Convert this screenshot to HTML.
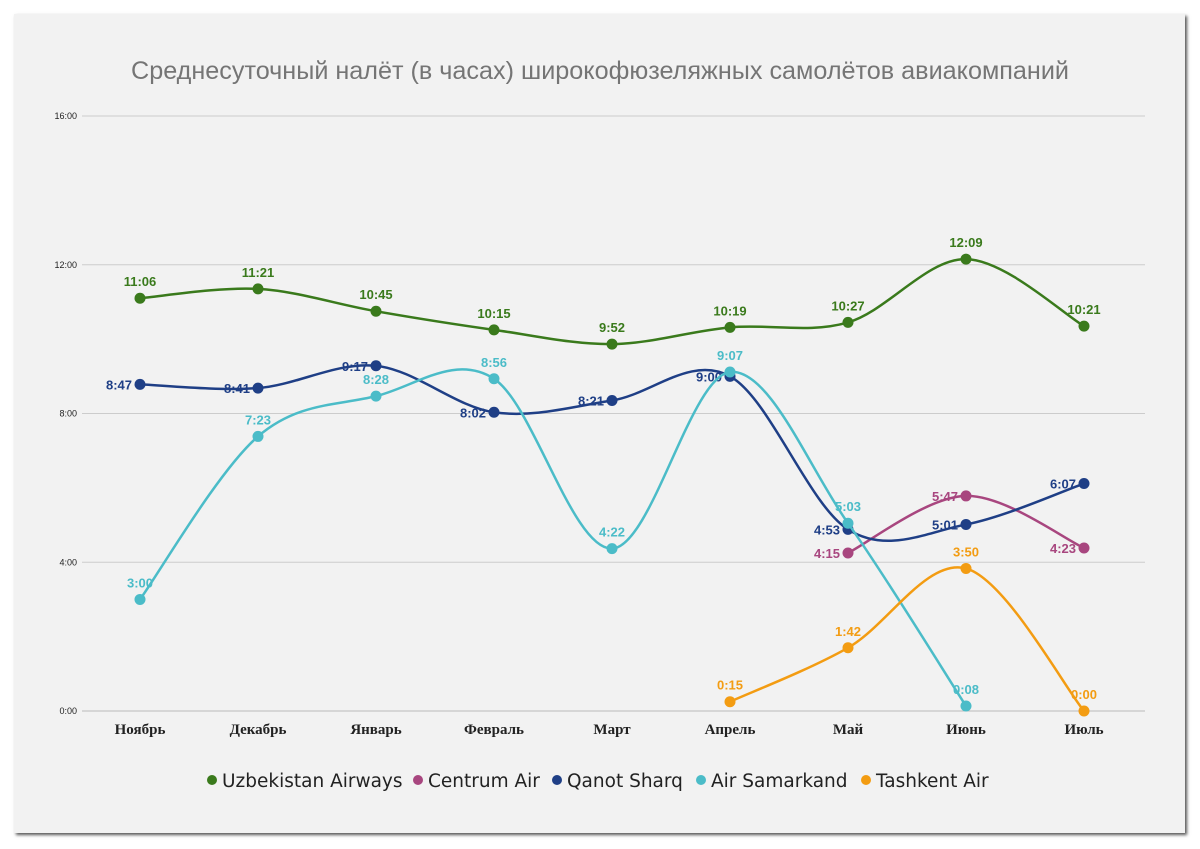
<!DOCTYPE html>
<html><head><meta charset="utf-8">
<style>
html,body{margin:0;padding:0;background:#fff;}
body{width:1200px;height:849px;position:relative;overflow:hidden;font-family:"Liberation Sans",sans-serif;}
#card{position:absolute;left:14px;top:14px;width:1171px;height:819px;background:#f2f2f2;box-shadow:2px 2px 3px #555;}
svg{position:absolute;left:0;top:0;}
</style></head><body>
<div id="card"></div>
<svg id="chart" width="1200" height="849"></svg>
<script>
const categories=["Ноябрь","Декабрь","Январь","Февраль","Март","Апрель","Май","Июнь","Июль"];
const yTicks=[0,240,480,720,960];
const tickLabels=["0:00","4:00","8:00","12:00","16:00"];
const seriesNames=["Uzbekistan Airways","Centrum Air","Qanot Sharq","Air Samarkand","Tashkent Air"];
const seriesColors=["#3a7a1c","#a8467f","#1f3f86","#4bbcc8","#f39c12"];
const uzbekistan=["11:06","11:21","10:45","10:15","9:52","10:19","10:27","12:09","10:21"];
const centrum=[null,null,null,null,null,null,"4:15","5:47","4:23"];
const qanot=["8:47","8:41","9:17","8:02","8:21","9:00","4:53","5:01","6:07"];
const samarkand=["3:00","7:23","8:28","8:56","4:22","9:07","5:03","0:08",null];
const tashkent=[null,null,null,null,null,"0:15","1:42","3:50","0:00"];
const allSeries=[uzbekistan,centrum,qanot,samarkand,tashkent];
const labelLeft=[false,true,true,false,false];

const NS="http://www.w3.org/2000/svg";
const svg=document.getElementById('chart');
const X0=140,XS=118,Y0=711,YTOP=116;
const xs=i=>X0+i*XS;
const ys=m=>Y0-(m/960)*(Y0-YTOP);
const toMin=s=>{const p=s.split(':');return (+p[0])*60+(+p[1]);};
function mk(tag,attrs,parent){const e=document.createElementNS(NS,tag);for(const k in attrs)e.setAttribute(k,attrs[k]);(parent||svg).appendChild(e);return e;}

const title=mk('text',{x:600,y:79,'text-anchor':'middle','font-size':25.2,fill:'#757575'});


title.textContent="Среднесуточный налёт (в часах) широкофюзеляжных самолётов авиакомпаний";

yTicks.forEach((t,i)=>{
  const l=mk('line',{x1:82,x2:1145,y1:ys(t),y2:ys(t),stroke:i==0?'#bbb':'#ccc','stroke-width':1});
  
  
  const tx=mk('text',{x:77,y:ys(t)+3,'text-anchor':'end','font-size':9,fill:'#222'});
  
  
  tx.textContent=tickLabels[i];
});
categories.forEach((c,i)=>{
  const tx=mk('text',{x:xs(i),y:734,'text-anchor':'middle','font-size':15,'font-weight':'bold','font-family':'"Liberation Serif",serif',fill:'#222'});
  
  
  tx.textContent=c;
});

allSeries.forEach((ser,si)=>{
  const pts=[];
  ser.forEach((v,i)=>{if(v!==null)pts.push({x:xs(i),y:ys(toMin(v)),v:v});});
  let d=`M${pts[0].x},${pts[0].y}`;
  for(let i=0;i<pts.length-1;i++){
    const p0=pts[i-1]||pts[i],p1=pts[i],p2=pts[i+1],p3=pts[i+2]||p2;
    const c1x=p1.x+(p2.x-p0.x)/6,c1y=p1.y+(p2.y-p0.y)/6;
    const c2x=p2.x-(p3.x-p1.x)/6,c2y=p2.y-(p3.y-p1.y)/6;
    d+=` C${c1x},${c1y} ${c2x},${c2y} ${p2.x},${p2.y}`;
  }
  const path=mk('path',{d:d,fill:'none',stroke:seriesColors[si],'stroke-width':2.5});
  
  
  pts.forEach(p=>{
    const c=mk('circle',{cx:p.x,cy:p.y,r:5.5,fill:seriesColors[si]});
    
    
    const t=labelLeft[si]?mk('text',{x:p.x-8,y:p.y+5,'text-anchor':'end','font-size':13,'font-weight':'bold',fill:seriesColors[si]})
                         :mk('text',{x:p.x,y:p.y-12,'text-anchor':'middle','font-size':13,'font-weight':'bold',fill:seriesColors[si]});
    
    
    t.textContent=p.v;
  });
});

const legendX=[212,418,557,701,866];
seriesNames.forEach((n,i)=>{
  const c=mk('circle',{cx:legendX[i],cy:780,r:5,fill:seriesColors[i]});
  
  
  const t=mk('text',{x:legendX[i]+10,y:787,'font-size':18.5,'font-family':'"DejaVu Sans",sans-serif',fill:'#222'});
  
  
  t.textContent=n;
});
</script>
</body></html>
